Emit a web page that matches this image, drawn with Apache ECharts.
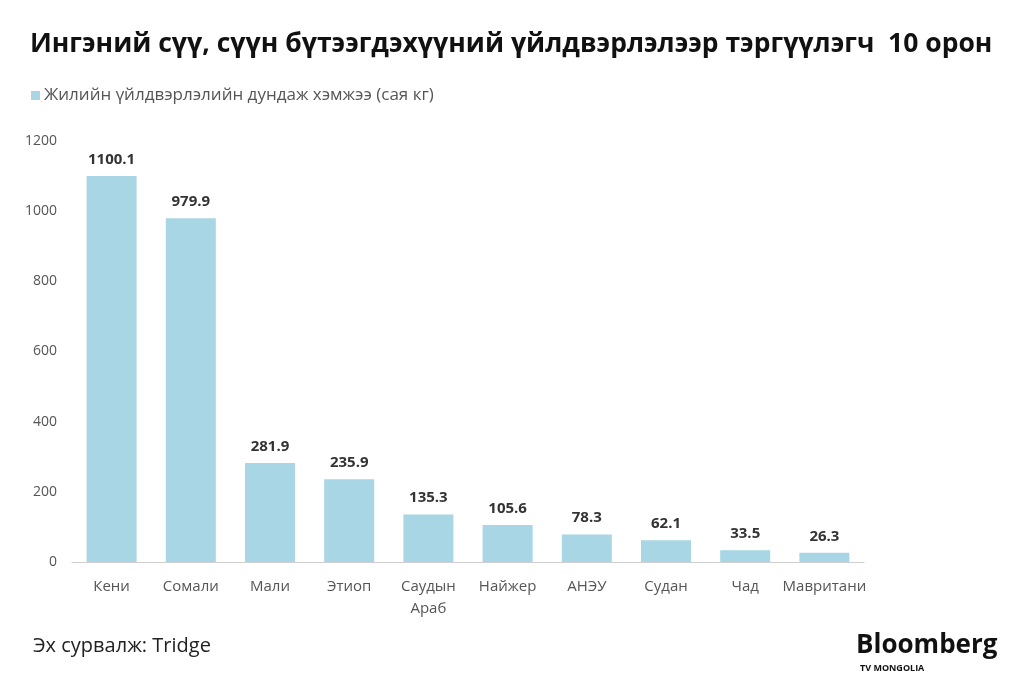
<!DOCTYPE html>
<html>
<head>
<meta charset="utf-8">
<script src="https://cdn.jsdelivr.net/npm/echarts@6/dist/echarts.min.js"></script>
<style>
  html, body { margin: 0; padding: 0; background: #fff; }
  #chart { width: 1024px; height: 684px; }
</style>
</head>
<body>
<div id="chart"></div>
<script>
const countries = ['Кени', 'Сомали', 'Мали', 'Этиоп', 'Саудын\nАраб', 'Найжер', 'АНЭУ', 'Судан', 'Чад', 'Мавритани']
const production = [1100.1, 979.9, 281.9, 235.9, 135.3, 105.6, 78.3, 62.1, 33.5, 26.3]
const yTicks = [0, 200, 400, 600, 800, 1000, 1200]

const barColor = '#a9d6e4'
const sans = '"Open Sans", "Noto Sans", sans-serif'

const chart = echarts.init(document.getElementById('chart'))
chart.setOption({
  backgroundColor: '#fff',
  animation: false,
  title: {
    text: 'Ингэний сүү, сүүн бүтээгдэхүүний үйлдвэрлэлээр тэргүүлэгч  10 орон',
    left: 25,
    top: 26,
    textStyle: { fontFamily: sans, fontWeight: 'bold', fontSize: 26.5, color: '#111' }
  },
  legend: {
    left: 26,
    top: 82,
    itemWidth: 9,
    itemHeight: 9,
    itemGap: 4,
    icon: 'rect',
    textStyle: { fontFamily: sans, fontSize: 17, color: '#555', padding: [0, 0, 0, -1] },
    data: ['Жилийн үйлдвэрлэлийн дундаж хэмжээ (сая кг)']
  },
  grid: { left: 72, right: 160, top: 141, bottom: 122 },
  xAxis: {
    type: 'category',
    data: countries,
    axisLine: { lineStyle: { color: '#cfcfcf', width: 1 } },
    axisTick: { show: false },
    axisLabel: { interval: 0, fontFamily: sans, fontSize: 15, color: '#555', margin: 14, lineHeight: 22 }
  },
  yAxis: {
    type: 'value',
    min: yTicks[0],
    max: yTicks[yTicks.length - 1],
    interval: 200,
    axisLine: { show: false },
    axisTick: { show: false },
    splitLine: { show: false },
    axisLabel: { fontFamily: sans, fontSize: 14, color: '#555', margin: 15, formatter: v => String(v) }
  },
  series: [{
    name: 'Жилийн үйлдвэрлэлийн дундаж хэмжээ (сая кг)',
    type: 'bar',
    data: production,
    barWidth: 50,
    itemStyle: { color: barColor },
    label: {
      show: true,
      position: 'top',
      distance: 9,
      fontFamily: sans,
      fontWeight: 'bold',
      fontSize: 15,
      color: '#333',
      formatter: p => p.value.toFixed(1)
    }
  }],
  graphic: [
    {
      type: 'text', left: 33, top: 636,
      style: { text: 'Эх сурвалж: Tridge', font: '20px ' + sans, fill: '#222' }
    },
    {
      type: 'text', left: 856, top: 633,
      style: { text: 'Bloomberg', font: 'bold 26px ' + sans, fill: '#111' }
    },
    {
      type: 'text', left: 860, top: 664,
      style: { text: 'TV MONGOLIA', font: 'bold 9px ' + sans, fill: '#111' }
    }
  ]
})
</script>
</body>
</html>
